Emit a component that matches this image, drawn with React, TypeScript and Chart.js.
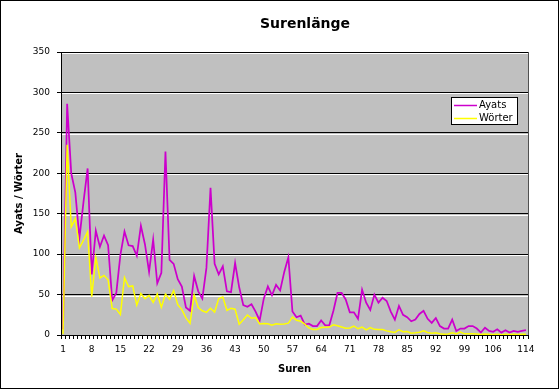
import React, { useEffect, useRef } from "react";
import { Chart, registerables } from "chart.js";

Chart.register(...registerables);

const SUREN = [
  1, 2, 3, 4, 5, 6, 7, 8, 9, 10, 11, 12, 13, 14, 15, 16, 17, 18, 19, 20,
  21, 22, 23, 24, 25, 26, 27, 28, 29, 30, 31, 32, 33, 34, 35, 36, 37, 38, 39, 40,
  41, 42, 43, 44, 45, 46, 47, 48, 49, 50, 51, 52, 53, 54, 55, 56, 57, 58, 59, 60,
  61, 62, 63, 64, 65, 66, 67, 68, 69, 70, 71, 72, 73, 74, 75, 76, 77, 78, 79, 80,
  81, 82, 83, 84, 85, 86, 87, 88, 89, 90, 91, 92, 93, 94, 95, 96, 97, 98, 99, 100,
  101, 102, 103, 104, 105, 106, 107, 108, 109, 110, 111, 112, 113, 114,
];

const AYATS = [
  7, 286, 200, 176, 120, 165, 206, 75, 129, 109, 123, 111, 43, 52, 99, 128, 111, 110, 98, 135,
  112, 78, 118, 64, 77, 227, 93, 88, 69, 60, 34, 30, 73, 54, 45, 83, 182, 88, 75, 85,
  54, 53, 89, 59, 37, 35, 38, 29, 18, 45, 60, 49, 62, 55, 78, 96, 29, 22, 24, 13,
  14, 11, 11, 18, 12, 12, 30, 52, 52, 44, 28, 28, 20, 56, 40, 31, 50, 40, 46, 42,
  29, 19, 36, 25, 22, 17, 19, 26, 30, 20, 15, 21, 11, 8, 8, 19, 5, 8, 8, 11,
  11, 8, 3, 9, 5, 4, 7, 3, 6, 3, 5, 4, 5, 6,
];

const WOERTER = [
  1.1, 235.2, 133.8, 144.0, 107.8, 117.3, 127.7, 47.3, 96.0, 70.5, 73.7, 68.3, 32.8, 32.0, 25.2, 71.0, 59.9, 60.7, 37.0, 51.3,
  44.9, 49.0, 40.4, 50.6, 34.3, 50.7, 44.2, 55.0, 37.5, 31.4, 21.1, 14.3, 49.5, 34.0, 29.9, 28.0, 33.1, 28.2, 45.1, 46.9,
  30.5, 33.1, 31.9, 13.3, 18.8, 24.8, 20.7, 21.5, 13.6, 14.3, 13.8, 12.0, 13.8, 13.2, 13.5, 14.6, 22.1, 18.2, 17.1, 13.4,
  8.7, 6.8, 6.9, 9.3, 9.6, 9.8, 12.7, 11.5, 9.9, 8.3, 8.6, 11.0, 7.7, 9.8, 6.3, 9.3, 7.0, 6.7, 6.9, 5.1,
  4.0, 3.1, 6.5, 4.1, 4.2, 2.3, 2.8, 3.5, 5.3, 3.2, 2.1, 2.7, 1.5, 1.0, 1.3, 2.8, 1.2, 3.6, 1.4, 1.5,
  1.4, 1.1, 0.5, 1.3, 0.9, 0.7, 1.0, 0.4, 1.0, 0.7, 0.9, 0.6, 0.9, 0.8,
];

const X_TICK_LABELS = [1, 8, 15, 22, 29, 36, 43, 50, 57, 64, 71, 78, 85, 92, 99, 106, 114];
const Y_TICKS = [0, 50, 100, 150, 200, 250, 300, 350];

const SERIES_NAMES = ["Ayats", "Wörter"];
const SERIES_COLORS = ["#CC00CC", "#FFFF00"];
const TITLE = "Surenlänge";
const X_TITLE = "Suren";
const Y_TITLE = "Ayats / Wörter";

const FONT = "'DejaVu Sans', Verdana, sans-serif";

export default function App() {
  const ref = useRef<HTMLCanvasElement>(null);

  useEffect(() => {
    document.body.style.margin = "0";
    const canvas = ref.current;
    if (!canvas) return;

    const decor = {
      id: "decor",
      beforeDraw(chart: any) {
        const { ctx, chartArea: a } = chart;
        ctx.save();
        ctx.fillStyle = "#ffffff";
        ctx.fillRect(0, 0, chart.width, chart.height);
        ctx.fillStyle = "#C0C0C0";
        ctx.fillRect(a.left, a.top, a.right - a.left, a.bottom - a.top);
        ctx.restore();
      },
      beforeDatasetsDraw(chart: any) {
        const { ctx, chartArea: a } = chart;
        const ys = chart.scales.y;
        ctx.save();
        ctx.strokeStyle = "#ffffff";
        ctx.lineWidth = 1;
        Y_TICKS.forEach((v) => {
          if (v === 0) return;
          const y = Math.round(ys.getPixelForValue(v)) + 1.5;
          ctx.beginPath();
          ctx.moveTo(a.left + 1, y);
          ctx.lineTo(a.right, y);
          ctx.stroke();
        });
        ctx.strokeStyle = "#505050";
        ctx.beginPath();
        ctx.moveTo(a.right + 0.5, a.top);
        ctx.lineTo(a.right + 0.5, a.bottom);
        ctx.stroke();
        ctx.restore();
      },
      afterDraw(chart: any) {
        const { ctx, chartArea: a } = chart;
        ctx.save();
        // outer frame
        ctx.strokeStyle = "#000000";
        ctx.lineWidth = 1;
        ctx.strokeRect(0.5, 0.5, chart.width - 1, chart.height - 1);

        // titles
        ctx.fillStyle = "#000000";
        ctx.textAlign = "center";
        ctx.textBaseline = "middle";
        ctx.font = `bold 14px ${FONT}`;
        ctx.fillText(TITLE, 305, 24);
        ctx.font = `bold 10px ${FONT}`;
        ctx.fillText(X_TITLE, (a.left + a.right) / 2, 369);
        ctx.save();
        ctx.translate(19, (a.top + a.bottom) / 2);
        ctx.rotate(-Math.PI / 2);
        ctx.fillText(Y_TITLE, 0, 0);
        ctx.restore();

        // legend
        const lx = 451.5;
        const ly = 97.5;
        ctx.fillStyle = "#ffffff";
        ctx.fillRect(lx, ly, 66, 27);
        ctx.strokeStyle = "#000000";
        ctx.strokeRect(lx, ly, 66, 27);
        ctx.font = `10px ${FONT}`;
        ctx.textAlign = "left";
        const rows = [105.5, 118.5];
        SERIES_NAMES.forEach((name, i) => {
          ctx.strokeStyle = SERIES_COLORS[i];
          ctx.lineWidth = 1.5;
          ctx.beginPath();
          ctx.moveTo(454, rows[i]);
          ctx.lineTo(477, rows[i]);
          ctx.stroke();
          ctx.fillStyle = "#000000";
          ctx.fillText(name, 479, rows[i]);
        });
        ctx.restore();
      },
    };

    const chart = new Chart(canvas, {
      type: "line",
      data: {
        labels: SUREN.map(String),
        datasets: [
          {
            label: SERIES_NAMES[0],
            data: AYATS,
            borderColor: SERIES_COLORS[0],
            backgroundColor: SERIES_COLORS[0],
            borderWidth: 1.75,
            pointRadius: 0,
            tension: 0,
            order: 2,
          },
          {
            label: SERIES_NAMES[1],
            data: WOERTER,
            borderColor: SERIES_COLORS[1],
            backgroundColor: SERIES_COLORS[1],
            borderWidth: 1.5,
            pointRadius: 0,
            tension: 0,
            order: 1,
          },
        ],
      },
      options: {
        responsive: false,
        animation: false,
        devicePixelRatio: 1,
        layout: { padding: { left: 0, top: 52, right: 31, bottom: 0 } },
        plugins: {
          legend: { display: false },
          title: { display: false },
          tooltip: { enabled: false },
        },
        scales: {
          x: {
            type: "category",
            offset: true,
            afterFit: (s: any) => {
              s.height = 54;
            },
            grid: {
              drawOnChartArea: false,
              offset: true,
              color: "#000000",
              tickLength: 4,
            },
            border: { display: true, color: "#000000", width: 1 },
            ticks: {
              autoSkip: false,
              maxRotation: 0,
              minRotation: 0,
              padding: 5,
              color: "#000000",
              font: { family: FONT, size: 9 },
              callback: (_v: any, i: number) =>
                X_TICK_LABELS.includes(SUREN[i]) ? String(SUREN[i]) : "",
            },
          },
          y: {
            min: 0,
            max: 350,
            afterFit: (s: any) => {
              s.width = 61;
            },
            grid: { color: "#000000", lineWidth: 1, tickLength: 4 },
            border: { display: true, color: "#000000", width: 1 },
            ticks: {
              stepSize: 50,
              padding: 7,
              color: "#000000",
              font: { family: FONT, size: 9 },
            },
          },
        },
      },
      plugins: [decor],
    });

    return () => chart.destroy();
  }, []);

  return <canvas ref={ref} width={559} height={389} style={{ display: "block" }} />;
}
